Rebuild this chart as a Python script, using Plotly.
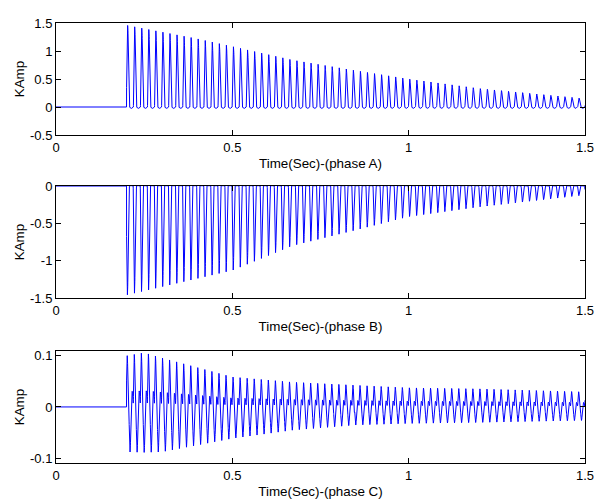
import numpy as np
import plotly.graph_objects as go

# ---- data (peak envelopes, kA) ----
switch_time = 0.2          # s, energisation instant
freq_hz = 50               # supply frequency
env_t_a = [0.2, 0.3, 0.4, 0.5, 0.67, 0.85, 1.0, 1.2, 1.35, 1.5]
env_a = [1.46, 1.34, 1.22, 1.08, 0.84, 0.65, 0.50, 0.33, 0.24, 0.15]

env_t_b = [0.2, 0.3, 0.4, 0.5, 0.67, 0.85, 1.0, 1.2, 1.35, 1.5]
env_b = [1.46, 1.35, 1.24, 1.13, 0.80, 0.59, 0.41, 0.28, 0.20, 0.12]

env_t_c = [0.2, 0.25, 0.3, 0.5, 0.67, 0.85, 1.0, 1.2, 1.5]
env_c_pos = [0.099, 0.105, 0.095, 0.058, 0.048, 0.042, 0.037, 0.035, 0.029]
env_c_neg = [0.087, 0.088, 0.087, 0.061, 0.045, 0.035, 0.032, 0.030, 0.026]

x_ticks = [0, 0.5, 1, 1.5]
y_ticks_a = [-0.5, 0, 0.5, 1, 1.5]
y_ticks_b = [-1.5, -1, -0.5, 0]
y_ticks_c = [-0.1, 0, 0.1]
x_titles = ["Time(Sec)-(phase A)", "Time(Sec)-(phase B)", "Time(Sec)-(phase C)"]
y_title = "KAmp"

# ---- build waveforms from the envelopes ----
t = np.arange(0, 1.5 + 1e-9, 1 / 6000)
on = t >= switch_time
theta = 2 * np.pi * freq_hz * (t - switch_time)


def pulse(th, half_width, power=1.3):
    c = np.cos(half_width)
    v = (np.cos(th) - c) / (1 - c)
    return np.clip(v, 0, None) ** power


ea = np.interp(t, env_t_a, env_a)
ia = np.where(on, ea * pulse(theta - 0.32 * np.pi, 0.38 * np.pi)
              - 0.025 * pulse(theta - 1.32 * np.pi, 0.5 * np.pi, 1.0), 0.0)

eb = np.interp(t, env_t_b, env_b)
ib = np.where(on, -eb * pulse(theta - 0.25 * np.pi, 0.36 * np.pi)
              + 0.012 * pulse(theta - 1.25 * np.pi, 0.5 * np.pi, 1.0), 0.0)
ib = np.minimum(ib, 0.004)

ecp = np.interp(t, env_t_c, env_c_pos)
ecn = np.interp(t, env_t_c, env_c_neg)
ic = np.where(on,
              ecp * pulse(theta - 0.2 * np.pi, 0.3 * np.pi)
              - ecn * pulse(theta - 1.0 * np.pi, 0.3 * np.pi)
              - 0.3 * ecn * pulse(theta - 0.6 * np.pi, 0.25 * np.pi, 1.0)
              + 0.3 * ecp * pulse(theta - 1.6 * np.pi, 0.35 * np.pi, 1.0),
              0.0)

series = [ia, ib, ic]

# ---- layout (window coordinates; body margin removed by post_script) ----
W, H = 596, 500
left_px, right_px = 56, 585
panels_px = [(23, 135), (186, 298), (351, 463)]   # top/bottom window rows
ml = left_px
mr = W - right_px
mt = panels_px[0][0]
mb = H - panels_px[-1][1]
ph = H - mt - mb
domains = [[(H - mb - b) / ph, (H - mb - tp) / ph] for tp, b in panels_px]
y_ranges = [[-0.5, 1.5], [-1.5, 0], [-0.1085, 0.1083]]
y_ticks = [y_ticks_a, y_ticks_b, y_ticks_c]

font = dict(family="Liberation Sans, Arial, sans-serif", size=13, color="black")
title_font = dict(font, size=13.4)
fig = go.Figure()
layout = dict(width=W, height=H, margin=dict(l=ml, r=mr, t=mt, b=mb),
              paper_bgcolor="white", plot_bgcolor="white", showlegend=False,
              font=font)

for i in range(3):
    sfx = "" if i == 0 else str(i + 1)
    fig.add_trace(go.Scatter(x=t, y=series[i], mode="lines",
                             line=dict(color="#0000FF", width=1),
                             xaxis="x" + sfx, yaxis="y" + sfx,
                             hoverinfo="skip"))
    axcommon = dict(showline=True, linecolor="black", linewidth=1, mirror="ticks",
                    ticks="inside", ticklen=5, tickcolor="black", showgrid=False,
                    zeroline=False, tickfont=font, automargin=False)
    layout["xaxis" + sfx] = dict(axcommon, domain=[0, 1], range=[0, 1.5],
                                 tickvals=x_ticks,
                                 ticktext=[f"{v:g}" for v in x_ticks],
                                 anchor="y" + sfx,
                                 title=dict(text=x_titles[i], font=title_font, standoff=5))
    layout["yaxis" + sfx] = dict(axcommon, domain=domains[i], range=y_ranges[i],
                                 tickvals=y_ticks[i],
                                 ticktext=[f"{v:g}" for v in y_ticks[i]],
                                 anchor="x" + sfx,
                                 title=dict(text=y_title, font=title_font, standoff=2))

fig.update_layout(**layout)
fig.write_html(
    "out.html",
    config={"displayModeBar": False},
    post_script="document.body.style.margin='0';document.body.style.overflow='hidden';",
)
